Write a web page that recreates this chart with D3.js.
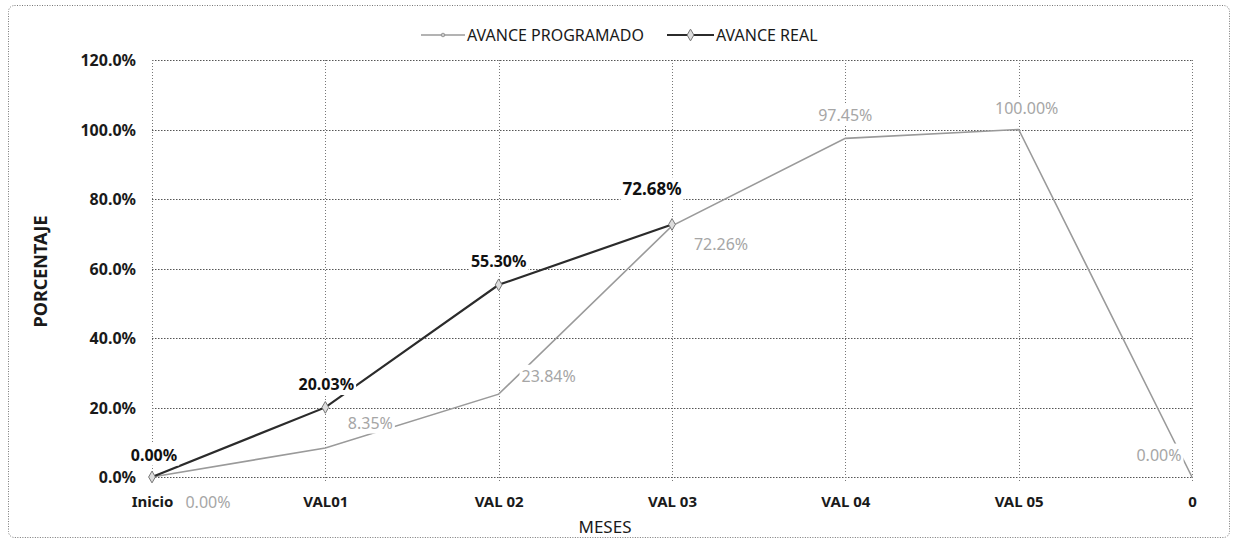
<!DOCTYPE html>
<html>
<head>
<meta charset="utf-8">
<script src="https://cdn.jsdelivr.net/npm/d3@7"></script>
<style>
  html, body { margin: 0; padding: 0; background: #fff; }
  svg { display: block; }
  text { font-family: "Noto Sans", "DejaVu Sans", sans-serif; }
</style>
</head>
<body>
<svg id="chart" width="1235" height="544"></svg>
<script>
// Monthly valuation periods
const categories = ["Inicio", "VAL01", "VAL 02", "VAL 03", "VAL 04", "VAL 05", "0"];
// Planned progress (%), one value per period
const programado = [0.00, 8.35, 23.84, 72.26, 97.45, 100.00, 0.00];
// Actual progress (%), reported up to VAL 03
const real = [0.00, 20.03, 55.30, 72.68];
// Y axis ticks (%)
const yTicks = [0, 20, 40, 60, 80, 100, 120];
const seriesNames = ["AVANCE PROGRAMADO", "AVANCE REAL"];

const svg = d3.select("#chart");
const plot = { left: 152, right: 1192, top: 60, bottom: 477 };

const x = d3.scalePoint().domain(categories).range([plot.left, plot.right]).padding(0);
const y = d3.scaleLinear().domain([0, 120]).range([plot.bottom, plot.top]);

const darkC = "#2b2b2b", greyC = "#9a9a9a";

// outer chart frame
svg.append("rect")
  .attr("x", 8.5).attr("y", 5.5).attr("width", 1221).attr("height", 532)
  .attr("rx", 6).attr("fill", "#fff")
  .attr("stroke", "#777").attr("stroke-width", 1).attr("stroke-dasharray", "1,1.5");

// horizontal gridlines
svg.append("g").selectAll("line").data(yTicks).join("line")
  .attr("x1", plot.left).attr("x2", plot.right)
  .attr("y1", d => Math.round(y(d)) + 0.5).attr("y2", d => Math.round(y(d)) + 0.5)
  .attr("stroke", "#555").attr("stroke-width", 1).attr("stroke-dasharray", "1.5,1.5");

// vertical gridlines at each period
svg.append("g").selectAll("line").data(categories).join("line")
  .attr("x1", d => Math.round(x(d)) + 0.5).attr("x2", d => Math.round(x(d)) + 0.5)
  .attr("y1", plot.top).attr("y2", plot.bottom + 6)
  .attr("stroke", "#777").attr("stroke-width", 1).attr("stroke-dasharray", "1,2");

// y axis labels
const yAxis = d3.axisLeft(y).tickValues(yTicks).tickSize(0).tickPadding(0)
  .tickFormat(d => d.toFixed(1) + "%");
const gy = svg.append("g").attr("transform", `translate(${plot.left - 16},0)`).call(yAxis);
gy.select(".domain").remove();
gy.selectAll("text")
  .attr("font-family", "'Noto Sans', sans-serif").attr("font-size", 16)
  .attr("font-weight", "bold").attr("fill", "#1a1a1a").attr("dy", "0.35em");

// x axis labels
const xAxis = d3.axisBottom(x).tickSize(0).tickPadding(0);
const gx = svg.append("g").attr("transform", `translate(0,${plot.bottom + 19})`).call(xAxis);
gx.select(".domain").remove();
gx.selectAll("text")
  .attr("font-family", "'Noto Sans', sans-serif").attr("font-size", 15)
  .attr("font-weight", "bold").attr("fill", "#1a1a1a").attr("dy", "0.35em").attr("y", 6);

// axis titles
svg.append("text")
  .attr("transform", `translate(41,${(plot.top + plot.bottom) / 2 + 3}) rotate(-90)`)
  .attr("text-anchor", "middle").attr("dy", "0.35em")
  .attr("font-size", 18).attr("font-weight", "bold").attr("fill", "#1a1a1a")
  .text("PORCENTAJE");
svg.append("text")
  .attr("x", 605).attr("y", 533).attr("text-anchor", "middle")
  .attr("font-size", 17).attr("fill", "#1a1a1a")
  .text("MESES");

const line = d3.line().x((d, i) => x(categories[i])).y(d => y(d));

// planned series
svg.append("path").datum(programado)
  .attr("d", line).attr("fill", "none")
  .attr("stroke", greyC).attr("stroke-width", 1.6);

// actual series
svg.append("path").datum(real)
  .attr("d", line).attr("fill", "none")
  .attr("stroke", darkC).attr("stroke-width", 2.2);

const diamond = d3.symbol().type(d3.symbolDiamond).size(40);
svg.append("g").selectAll("path").data(real).join("path")
  .attr("transform", (d, i) => `translate(${x(categories[i])},${y(d)})`)
  .attr("d", diamond).attr("fill", "#ddd").attr("stroke", "#777").attr("stroke-width", 1);

// data labels (offsets relative to each point)
const realLabelShift = [[2, -22], [1, -23], [0, -23], [-20, -35]];
const progLabelShift = [[56, 25], [45, -25], [50, -18], [49, 19], [0, -23], [8, -21], [-33, -22]];

function labels(values, shifts, color, weight, sizes) {
  const g = svg.append("g");
  values.forEach((v, i) => {
    const px = x(categories[i]) + shifts[i][0];
    const py = y(v) + shifts[i][1];
    const t = g.append("text")
      .attr("x", px).attr("y", py).attr("text-anchor", "middle").attr("dy", "0.35em")
      .attr("font-size", sizes(i)).attr("font-weight", weight).attr("fill", color)
      .text(v.toFixed(2) + "%");
    const bb = t.node().getBBox();
    g.insert("rect", () => t.node())
      .attr("x", bb.x - 2).attr("y", bb.y).attr("width", bb.width + 4).attr("height", bb.height)
      .attr("fill", "#fff");
  });
}
labels(programado, progLabelShift, "#a6a6a6", "normal", () => 16);
labels(real, realLabelShift, "#111", "bold", i => (i === real.length - 1 ? 17 : 16));

// legend
const legend = svg.append("g");
const legendItems = [
  { name: seriesNames[0], x0: 421, x1: 465, color: greyC, w: 1.6, marker: false },
  { name: seriesNames[1], x0: 667, x1: 714, color: darkC, w: 2, marker: true }
];
legendItems.forEach(it => {
  legend.append("line").attr("x1", it.x0).attr("x2", it.x1).attr("y1", 35).attr("y2", 35)
    .attr("stroke", it.color).attr("stroke-width", it.w);
  if (it.marker) {
    legend.append("path").attr("transform", `translate(${(it.x0 + it.x1) / 2},35)`)
      .attr("d", diamond).attr("fill", "#ddd").attr("stroke", "#777");
  } else {
    legend.append("circle").attr("cx", (it.x0 + it.x1) / 2).attr("cy", 35).attr("r", 1.8)
      .attr("fill", "#ccc").attr("stroke", "#888").attr("stroke-width", 0.8);
  }
  legend.append("text").attr("x", it.x1 + 2).attr("y", 35).attr("dy", "0.35em")
    .attr("font-size", 16).attr("fill", "#1a1a1a").text(it.name);
});
</script>
</body>
</html>
